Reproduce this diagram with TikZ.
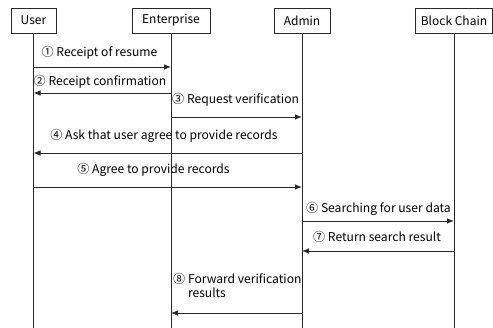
\documentclass[tikz,border=0pt]{standalone}
\usepackage{fontspec}
\setmainfont{Noto Sans CJK KR}
\usetikzlibrary{arrows.meta}
\definecolor{ln}{RGB}{40,40,40}
\tikzset{
  actor/.style={draw=ln, line width=0.8pt, minimum height=25pt, inner sep=0pt, font=\fontsize{12}{14}\selectfont},
  life/.style={draw=ln, line width=0.8pt},
  msg/.style={draw=ln, line width=0.8pt, -{Latex[length=7pt,width=5.5pt]}},
  lbl/.style={inner sep=0pt, font=\fontsize{12.1}{14}\selectfont}
}
\begin{document}
\begin{tikzpicture}[x=1pt,y=1pt]
\useasboundingbox (0,0) rectangle (493,-328);
\node[actor, minimum width=45pt] (user) at (33.5,-20.5) {User};
\node[actor, minimum width=78pt] (ent) at (171,-20.5) {Enterprise};
\node[actor, minimum width=56pt] (adm) at (302,-20.5) {Admin};
\node[actor, minimum width=77pt] (bc) at (454,-20.5) {Block Chain};
\coordinate (ue) at (user.south |- 0,-328);
\coordinate (ee) at (ent.south |- 0,-328);
\coordinate (ae) at (adm.south |- 0,-328);
\coordinate (be) at (bc.south |- 0,-328);
\draw[life] (user.south) -- (ue);
\draw[life] (ent.south) -- (ee);
\draw[life] (adm.south) -- (ae);
\draw[life] (bc.south) -- (be);
\coordinate (r1) at (0,-67);
\coordinate (r2) at (0,-93);
\coordinate (r3) at (0,-117);
\coordinate (r4) at (0,-153);
\coordinate (r5) at (0,-187);
\coordinate (r6) at (0,-221);
\coordinate (r7) at (0,-251);
\coordinate (r8) at (0,-313);
\draw[msg] (user |- r1) -- (ent |- r1);
\draw[msg] (ent |- r2) -- (user |- r2);
\draw[msg] (ent |- r3) -- (adm |- r3);
\draw[msg] (adm |- r4) -- (user |- r4);
\draw[msg] (user |- r5) -- (adm |- r5);
\draw[msg] (adm |- r6) -- (bc |- r6);
\draw[msg] (bc |- r7) -- (adm |- r7);
\draw[msg] (adm |- r8) -- (ent |- r8);
\node[lbl] (l1) at (99.5,-53) {① Receipt of resume};
\node[lbl] (l2) at (100,-82) {② Receipt confirmation};
\node[lbl, anchor=west] (l3) at (172,-100) {③ Request verification};
\node[lbl] (l4) at (164,-136) {④ Ask that user agree to provide records};
\node[lbl] (l5) at (153.5,-170) {⑤ Agree to provide records};
\node[lbl, anchor=west] (l6) at (306,-209) {⑥ Searching for user data};
\node[lbl] (l7) at (377,-237) {⑦ Return search result};
\node[lbl, anchor=north west, align=left] (l8) at (173,-273) {⑧ Forward verification\\\phantom{⑧ }results};
\end{tikzpicture}
\end{document}
